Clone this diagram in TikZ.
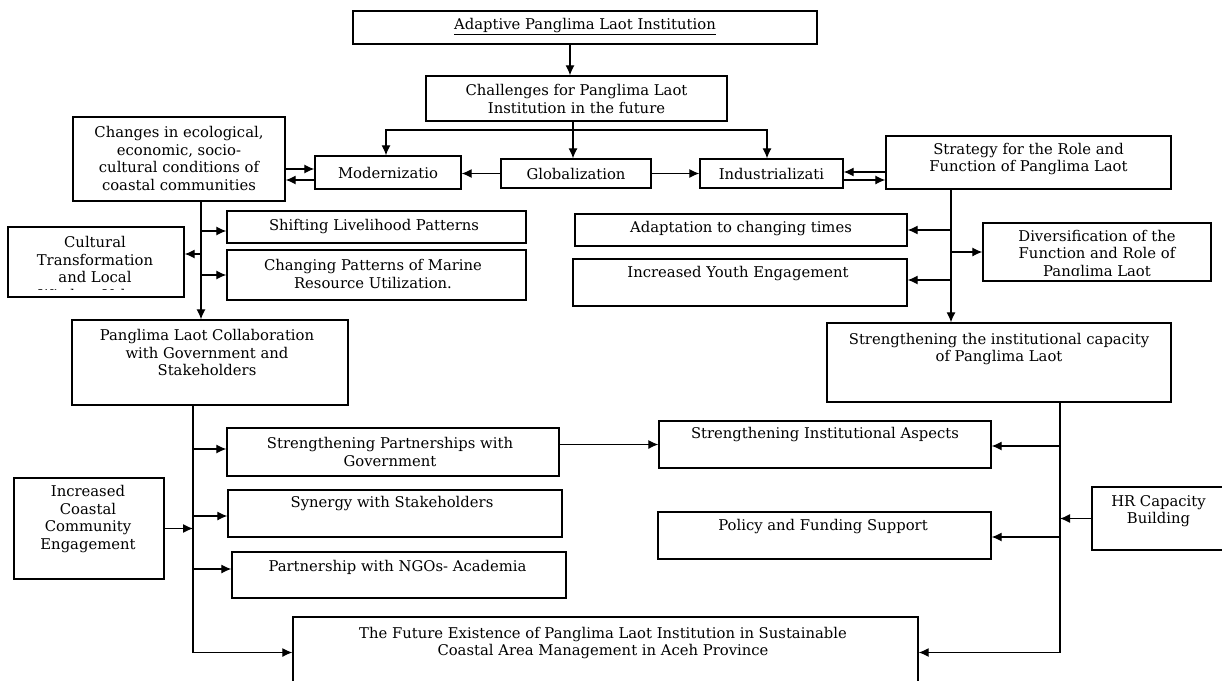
\documentclass[tikz,border=0pt]{standalone}
\usepackage{fontspec}
\setmainfont{DejaVu Serif}
\usetikzlibrary{arrows.meta}
\tikzset{
  box/.style={draw, line width=1.3pt, inner sep=0pt, rectangle},
  txt/.style={align=center, inner sep=0pt, font=\fontsize{14.8}{17.5}\selectfont},
  arr/.style={line width=1.2pt, -{Latex[length=10pt,width=9pt]}},
  ln/.style={line width=1.2pt},
}
\newcommand{\DBox}[5]{\node[box, minimum width={#4pt-#2pt}, minimum height={#5pt-#3pt}] (#1) at ({(#2+#4)/2},{(#3+#5)/2}) {};}
\begin{document}
\begin{tikzpicture}[x=1pt,y=-1pt]
\fill[white] (0,0) rectangle (1222,680);
\useasboundingbox (0,0) rectangle (1222,680);
% boxes
\DBox{top}{353}{11}{817}{44}
\DBox{chal}{426}{76}{727}{121}
\DBox{mod}{315}{156}{461}{189}
\DBox{glob}{501}{159}{651}{188}
\DBox{ind}{700}{159}{843}{188}
\DBox{chg}{73}{117}{285}{201}
\DBox{strat}{886}{136}{1171}{189}
\DBox{shift}{227}{211}{526}{243}
\DBox{chpat}{227}{250}{526}{300}
\DBox{cult}{8}{227}{184}{297}
\DBox{adapt}{575}{214}{907}{246}
\DBox{youth}{573}{259}{907}{306}
\DBox{divers}{983}{223}{1211}{281}
\DBox{cap}{827}{323}{1171}{402}
\DBox{collab}{72}{320}{348}{405}
\DBox{spg}{227}{428}{559}{476}
\DBox{syn}{228}{490}{562}{537}
\DBox{ngo}{232}{552}{566}{598}
\DBox{icce}{14}{478}{164}{579}
\DBox{sia}{659}{421}{991}{468}
\DBox{pol}{658}{512}{991}{559}
\DBox{hr}{1092}{487}{1226}{550}
\DBox{fut}{293}{617}{918}{688}
% texts
\node[txt] (ttop) at (585,27) {\underline{Adaptive Panglima Laot Institution}};
\node[txt] (tchal) at (576.5,99) {Challenges for Panglima Laot\\Institution in the future};
\node[txt] (tmod) at (388,172.5) {Modernizatio};
\node[txt] (tglob) at (576,173.5) {Globalization};
\node[txt] (tind) at (771.5,173.5) {Industrializati};
\node[txt] (tchg) at (179,158.5) {Changes in ecological,\\economic, socio-\\cultural conditions of\\coastal communities};
\node[txt] (tstrat) at (1028.5,159) {Strategy for the Role and\\Function of Panglima Laot};
\node[txt] (tshift) at (374,227) {Shifting Livelihood Patterns};
\node[txt] (tchpat) at (373,274) {Changing Patterns of Marine\\Resource Utilization.};
\begin{scope}
  \clip (9,228) rectangle (183,289);
  \node[txt] (tcult) at (95,268.5) {Cultural\\Transformation\\and Local\\Wisdom Values};
\end{scope}
\node[txt] (tadapt) at (741,229) {Adaptation to changing times};
\node[txt] (tyouth) at (738,274) {Increased Youth Engagement};
\begin{scope}
  \clip (984,224) rectangle (1210,275);
  \node[txt] (tdivers) at (1097,255) {Diversification of the\\Function and Role of\\Panglima Laot};
\end{scope}
\node[txt] (tcap) at (999,349) {Strengthening the institutional capacity\\of Panglima Laot};
\node[txt] (tcollab) at (207,352.5) {Panglima Laot Collaboration\\with Government and\\Stakeholders};
\node[txt] (tspg) at (390,452) {Strengthening Partnerships with\\Government};
\node[txt] (tsyn) at (392,504) {Synergy with Stakeholders};
\node[txt] (tngo) at (397.5,567) {Partnership with NGOs- Academia};
\node[txt] (ticce) at (88,519) {Increased\\Coastal\\Community\\Engagement};
\node[txt] (tsia) at (825,435) {Strengthening Institutional Aspects};
\node[txt] (tpol) at (823,527) {Policy and Funding Support};
\node[txt] (thr) at (1158.5,511) {HR Capacity\\Building};
\node[txt] (tfut) at (603,643) {The Future Existence of Panglima Laot Institution in Sustainable\\Coastal Area Management in Aceh Province};
% helper coordinates
\coordinate (xa) at (570,0);
\coordinate (bj) at (573,130);
\coordinate (y169) at (0,169);
\coordinate (y180) at (0,180);
\coordinate (y172) at (0,172);
\coordinate (sx) at (951,0);
\coordinate (y280) at (0,280);
\coordinate (cx) at (201,0);
\coordinate (y231) at (0,231);
\coordinate (y254) at (0,254);
\coordinate (lx) at (193,0);
\coordinate (y449) at (0,449);
\coordinate (y516) at (0,516);
\coordinate (y569) at (0,569);
\coordinate (rx) at (1060,0);
\coordinate (y446) at (0,446);
\coordinate (y537) at (0,537);
% connectors top
\draw[arr] (top.south -| xa) -- (chal.north -| xa);
\draw[ln] (chal.south -| bj) -- (bj);
\draw[arr] (bj) -| ([xshift=-2pt]mod.north);
\draw[arr] (bj) -- (glob.north -| bj);
\draw[arr] (bj) -| ([xshift=-4.5pt]ind.north);
\draw[arr] (glob.west) -- (mod.east |- glob.west);
\draw[arr] (glob.east) -- (ind.west |- glob.east);
\draw[arr] (chg.east |- y169) -- (mod.west |- y169);
\draw[arr] (mod.west |- y180) -- (chg.east |- y180);
\draw[arr] (strat.west |- y172) -- (ind.east |- y172);
\draw[arr] (ind.east |- y180) -- (strat.west |- y180);
% strategy rail
\draw[arr] (strat.south -| sx) -- (cap.north -| sx);
\draw[arr] (adapt.east -| sx) -- (adapt.east);
\draw[arr] (divers.west -| sx) -- (divers.west);
\draw[arr] (sx |- y280) -- (youth.east |- y280);
% changes rail
\draw[arr] (chg.south -| cx) -- (collab.north -| cx);
\draw[arr] (cx |- y231) -- (shift.west |- y231);
\draw[arr] (cx |- y254) -- (cult.east |- y254);
\draw[arr] (cx |- chpat.west) -- (chpat.west);
% collaboration rail
\draw[arr] (collab.south -| lx) |- (fut.west);
\draw[arr] (lx |- y449) -- (spg.west |- y449);
\draw[arr] (lx |- y516) -- (syn.west |- y516);
\draw[arr] (lx |- y569) -- (ngo.west |- y569);
\draw[arr] (icce.east) -- (icce.east -| lx);
\draw[arr] (spg.east |- sia.west) -- (sia.west);
% capacity rail
\draw[arr] (cap.south -| rx) |- (fut.east);
\draw[arr] (rx |- y446) -- (sia.east |- y446);
\draw[arr] (rx |- y537) -- (pol.east |- y537);
\draw[arr] (hr.west) -- (hr.west -| rx);
\end{tikzpicture}
\end{document}
